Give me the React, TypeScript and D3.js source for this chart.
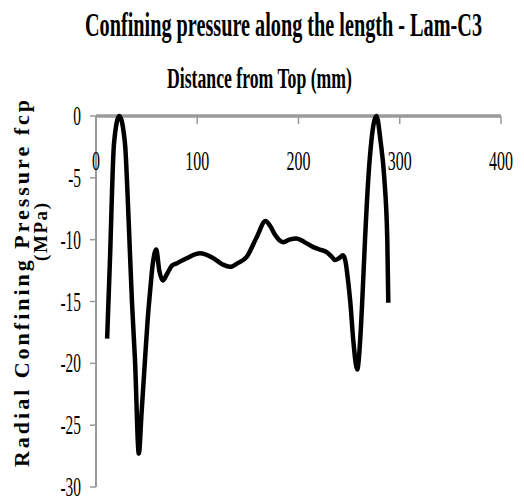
import React from "react";
import * as d3 from "d3";

const chartTitle = "Confining pressure along the length - Lam-C3";
const xAxisTitle = "Distance from Top (mm)";
const yAxisTitle1 = "Radial Confining Pressure fcp";
const yAxisTitle2 = "(MPa)";

const xTicks = [0, 100, 200, 300, 400];
const yTicks = [0, -5, -10, -15, -20, -25, -30];

const distance = [
  11, 13.8, 17.8, 23, 28.6, 31, 33, 35.5, 38.5, 42.3, 45, 48.4, 51, 53.3, 56,
  59.5, 62.5, 66, 70, 75, 80, 89.5, 102.7, 115.9, 125, 132.3, 140, 148.8,
  158.7, 167.5, 172, 176.8, 182, 185, 191, 198, 206, 214.6, 221, 227.8, 233,
  236, 240, 244, 246.5, 248.5, 251, 254.5, 258, 261, 263, 265.7, 269, 272,
  277, 281, 284.7, 287.7, 288.7,
];
const pressure = [
  -18, -11.6, -2.2, 0, -2.2, -6, -10, -15, -19.7, -27.3, -24, -19.7, -16.5,
  -14.3, -12, -10.8, -12.5, -13.3, -12.8, -12.1, -11.9, -11.5, -11.1, -11.5,
  -12, -12.2, -11.9, -11.4, -9.8, -8.5, -8.9, -9.6, -10.1, -10.2, -10, -9.9,
  -10.2, -10.6, -10.8, -11, -11.4, -11.65, -11.5, -11.25, -11.8, -13, -14.9,
  -18.5, -20.5, -18, -14.9, -10, -5, -2, 0, -2, -5, -10, -15.1,
];

const W = 524;
const H = 500;

export default function App() {
  const x = d3.scaleLinear().domain([0, 400]).range([96, 501]);
  const y = d3.scaleLinear().domain([-30, 0]).range([487, 116]);
  const pts: [number, number][] = distance.map((d, i) => [d, pressure[i]]);
  const line = d3
    .line<[number, number]>()
    .x((d) => x(d[0]))
    .y((d) => y(d[1]))
    .curve(d3.curveMonotoneX);

  const serif = "'Liberation Serif', 'Times New Roman', serif";
  const axisColor = "#9a9a9a";

  return (
    <svg
      width={W}
      height={H}
      style={{ position: "absolute", left: 0, top: 0, background: "#fff" }}
    >
      <rect x={0} y={0} width={W} height={H} fill="#fff" />
      <text
        x={85}
        y={36}
        fontFamily={serif}
        fontWeight="bold"
        fontSize={33}
        textLength={397}
        lengthAdjust="spacingAndGlyphs"
        fill="#000"
      >
        {chartTitle}
      </text>
      <text
        x={167}
        y={88}
        fontFamily={serif}
        fontWeight="bold"
        fontSize={29}
        textLength={185}
        lengthAdjust="spacingAndGlyphs"
        fill="#000"
      >
        {xAxisTitle}
      </text>
      <g transform="translate(29,283.5) rotate(-90)">
        <text
          x={0}
          y={0}
          textAnchor="middle"
          fontFamily={serif}
          fontWeight="bold"
          fontSize={22}
          textLength={367}
          lengthAdjust="spacing"
          fill="#000"
        >
          {yAxisTitle1}
        </text>
      </g>
      <g transform="translate(47,232) rotate(-90)">
        <text
          x={0}
          y={0}
          textAnchor="middle"
          fontFamily={serif}
          fontWeight="bold"
          fontSize={19}
          textLength={58}
          lengthAdjust="spacing"
          fill="#000"
        >
          {yAxisTitle2}
        </text>
      </g>

      {/* y axis */}
      <line
        x1={x(0)}
        x2={x(0)}
        y1={y(0)}
        y2={y(-30)}
        stroke={axisColor}
        strokeWidth={2}
      />
      {yTicks.map((t) => (
        <g key={"yt" + t}>
          <line
            x1={x(0) - 6}
            x2={x(0)}
            y1={y(t)}
            y2={y(t)}
            stroke={axisColor}
            strokeWidth={1.5}
          />
          <text
            transform={`translate(81,${y(t) + 9}) scale(0.57,1)`}
            textAnchor="end"
            fontFamily={serif}
            fontSize={27}
            fill="#000"
          >
            {String(t)}
          </text>
        </g>
      ))}

      {/* x axis */}
      {xTicks.map((t) => (
        <g key={"xt" + t}>
          <line
            x1={x(t)}
            x2={x(t)}
            y1={y(0)}
            y2={y(0) + 8}
            stroke={axisColor}
            strokeWidth={1.5}
          />
          <text
            transform={`translate(${x(t)},170) scale(0.57,1)`}
            textAnchor="middle"
            fontFamily={serif}
            fontSize={28}
            fill="#000"
          >
            {String(t)}
          </text>
        </g>
      ))}
      <line
        x1={x(0)}
        x2={x(400)}
        y1={y(0)}
        y2={y(0)}
        stroke={axisColor}
        strokeWidth={3.5}
      />

      <path
        d={line(pts) || ""}
        fill="none"
        stroke="#000"
        strokeWidth={4.5}
        strokeLinejoin="round"
        strokeLinecap="butt"
      />
    </svg>
  );
}
